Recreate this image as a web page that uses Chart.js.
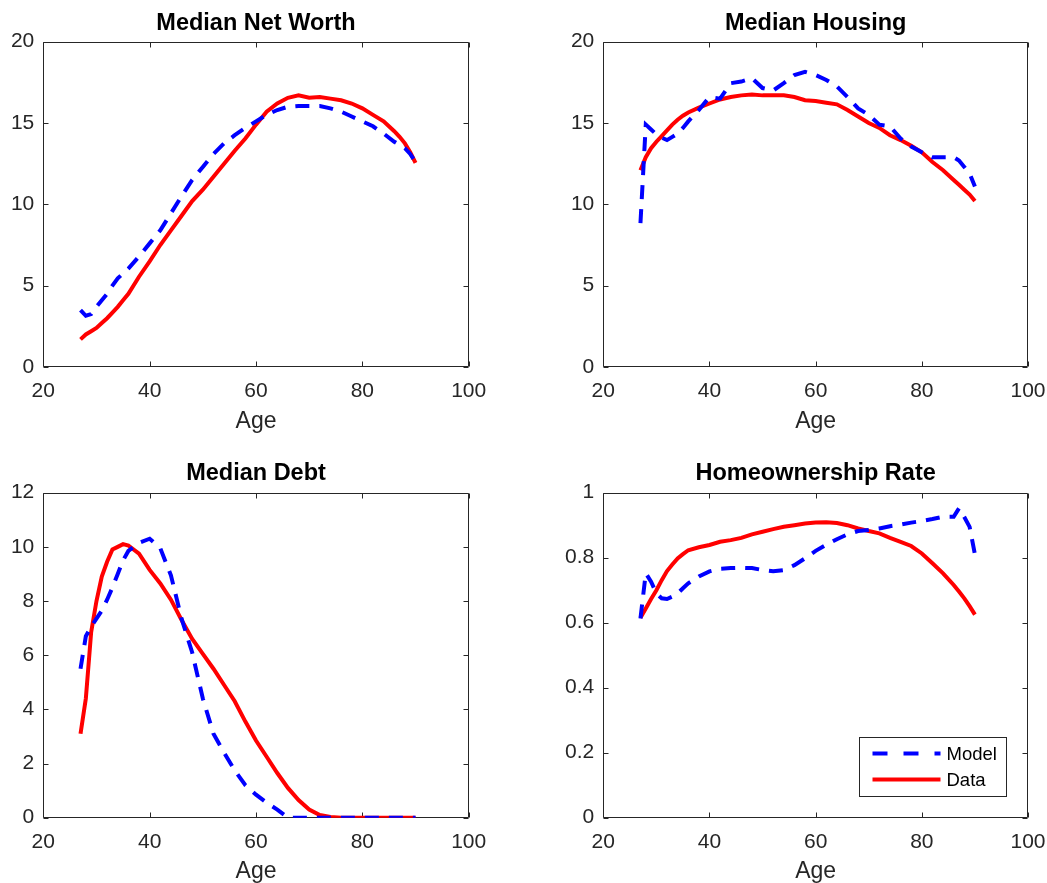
<!DOCTYPE html>
<html>
<head>
<meta charset="utf-8">
<script src="https://cdn.jsdelivr.net/npm/chart.js@4.4.1/dist/chart.umd.min.js"></script>
<style>
body{margin:0;background:#fff;}
#wrap{position:relative;width:1047px;height:883px;overflow:hidden;background:#fff;}
canvas{position:absolute;}
</style>
</head>
<body>
<div id="wrap">
  <canvas id="c1" width="523" height="433" style="left:0;top:0"></canvas>
  <canvas id="c2" width="524" height="433" style="left:523px;top:0"></canvas>
  <canvas id="c3" width="523" height="433" style="left:0;top:450px"></canvas>
  <canvas id="c4" width="524" height="433" style="left:523px;top:450px"></canvas>
</div>
<script>
'use strict'

// ages on the x axis (yearly at the ends, every 2 years in the middle)
const ages = [27,28,29,30,31,32,33,34,35,36,38,40,42,44,46,48,50,52,54,56,58,60,62,64,66,68,70,72,74,76,78,80,82,84,86,87,88,89,90];

const netWorthModel = [3.5,3.15,3.25,3.7,4.1,4.5,5.0,5.45,5.75,6.05,6.8,7.6,8.4,9.45,10.5,11.5,12.3,13.1,13.75,14.25,14.7,15.1,15.5,15.8,16.0,16.05,16.05,16.05,15.9,15.7,15.4,15.1,14.8,14.35,13.85,13.65,13.45,13.1,12.6];
const netWorthData = [1.7,2.0,2.2,2.4,2.7,3.0,3.35,3.7,4.1,4.5,5.55,6.5,7.5,8.4,9.3,10.2,10.9,11.7,12.5,13.3,14.05,14.9,15.7,16.2,16.55,16.7,16.55,16.6,16.5,16.4,16.2,15.9,15.5,15.1,14.5,14.15,13.75,13.2,12.55];

const housingModel = [8.85,14.9,14.6,14.3,14.1,13.95,14.15,14.35,14.7,15.1,15.8,16.6,16.5,17.45,17.55,17.75,17.15,17.0,17.45,17.95,18.15,17.95,17.65,17.25,16.6,15.9,15.5,14.9,14.8,14.05,13.55,13.2,12.9,12.9,12.9,12.7,12.3,11.9,11.1];
const housingData = [12.1,12.9,13.45,13.85,14.2,14.55,14.9,15.2,15.45,15.65,15.95,16.2,16.45,16.6,16.7,16.75,16.7,16.7,16.7,16.6,16.4,16.35,16.25,16.15,15.8,15.4,15.0,14.7,14.25,13.95,13.6,13.2,12.6,12.1,11.5,11.2,10.9,10.6,10.2];

const debtModel = [5.5,6.7,7.05,7.35,7.65,8.05,8.5,9.0,9.5,9.85,10.15,10.3,9.95,8.95,7.35,6.1,4.4,3.1,2.4,1.75,1.2,0.85,0.55,0.3,0,0,0,0,0,0,0,0,0,0,0,0,0,0,0];
const debtData = [3.1,4.4,6.85,8.0,8.9,9.45,9.9,10.0,10.1,10.05,9.75,9.15,8.65,8.05,7.3,6.6,6.05,5.5,4.9,4.3,3.55,2.85,2.25,1.65,1.1,0.65,0.3,0.1,0.03,0,0,0,0,0,0,0,0,0,0];

const homeModel = [0.613,0.752,0.726,0.69,0.675,0.673,0.68,0.69,0.706,0.721,0.742,0.758,0.766,0.768,0.769,0.768,0.762,0.758,0.762,0.777,0.798,0.821,0.84,0.857,0.872,0.882,0.885,0.89,0.897,0.902,0.908,0.913,0.919,0.926,0.926,0.952,0.925,0.895,0.81];
const homeData = [0.615,0.644,0.673,0.70,0.731,0.759,0.779,0.798,0.811,0.823,0.832,0.839,0.849,0.854,0.861,0.872,0.88,0.888,0.895,0.90,0.905,0.908,0.909,0.907,0.90,0.89,0.882,0.875,0.861,0.849,0.836,0.813,0.783,0.752,0.716,0.696,0.675,0.651,0.625];

const seriesLabels = ['Model', 'Data'];
const xRange = [20, 100, 20];

const AXIS = '#262626';
const FONT = "'Liberation Sans', Arial, Helvetica, sans-serif";

function toPoints(ys){
    return ages.map((a, i) => ({x: a, y: ys[i]}));
}

// MATLAB style box with inward ticks, drawn under the lines
const boxPlugin = {
    id: 'mbox',
    beforeDatasetsDraw(chart){
        const {ctx, chartArea: a, scales} = chart;
        const l = Math.round(a.left) + 0.5, r = Math.round(a.right) - 0.5;
        const t = Math.round(a.top) + 0.5, b = Math.round(a.bottom) - 0.5;
        ctx.save();
        ctx.strokeStyle = AXIS;
        ctx.lineWidth = 1;
        ctx.beginPath();
        ctx.rect(l, t, r - l, b - t);
        scales.x.ticks.forEach(tk => {
            const px = Math.round(scales.x.getPixelForValue(tk.value)) + 0.5;
            ctx.moveTo(px, b); ctx.lineTo(px, b - 5);
            ctx.moveTo(px, t); ctx.lineTo(px, t + 5);
        });
        scales.y.ticks.forEach(tk => {
            const py = Math.round(scales.y.getPixelForValue(tk.value)) + 0.5;
            ctx.moveTo(l, py); ctx.lineTo(l + 5, py);
            ctx.moveTo(r, py); ctx.lineTo(r - 5, py);
        });
        ctx.stroke();
        ctx.restore();
    }
};

// legend box in the lower right corner of the chart area
const legendPlugin = {
    id: 'mlegend',
    afterDraw(chart, args, opts){
        if (!opts.show) return;
        const {ctx, chartArea: a} = chart;
        const w = 147, h = 59;
        const x0 = Math.round(a.right - 22 - w) + 0.5, y0 = Math.round(a.bottom - 22 - h) + 0.5;
        ctx.save();
        ctx.fillStyle = '#fff';
        ctx.fillRect(x0, y0, w, h);
        ctx.strokeStyle = AXIS;
        ctx.lineWidth = 1;
        ctx.strokeRect(x0, y0, w, h);
        chart.data.datasets.forEach((ds, i) => {
            const yy = y0 + 16 + i * 26;
            ctx.strokeStyle = ds.borderColor;
            ctx.lineWidth = ds.borderWidth;
            ctx.setLineDash(ds.borderDash ? [15, 16] : []);
            ctx.beginPath();
            ctx.moveTo(x0 + 13, yy);
            ctx.lineTo(x0 + 81, yy);
            ctx.stroke();
            ctx.setLineDash([]);
            ctx.fillStyle = '#000';
            ctx.font = '18.5px ' + FONT;
            ctx.textAlign = 'left';
            ctx.textBaseline = 'middle';
            ctx.fillText(ds.label, x0 + 87, yy + 1);
        });
        ctx.restore();
    }
};

function makeChart(id, title, model, data, yMax, yStep, g, legend){
    return new Chart(document.getElementById(id), {
        type: 'line',
        data: {
            datasets: [{
                label: seriesLabels[0],
                data: toPoints(model),
                borderColor: '#0000ff',
                borderWidth: 4,
                borderDash: [14, 10],
                pointRadius: 0,
                tension: 0
            }, {
                label: seriesLabels[1],
                data: toPoints(data),
                borderColor: '#ff0000',
                borderWidth: 4,
                pointRadius: 0,
                tension: 0
            }]
        },
        options: {
            responsive: false,
            animation: false,
            layout: {padding: {left: g.left - 43, right: g.right, top: 0, bottom: 0}},
            plugins: {
                legend: {display: false},
                tooltip: {enabled: false},
                title: {
                    display: true,
                    text: title,
                    fullSize: false,
                    color: '#000',
                    font: {family: FONT, size: 23.5, weight: 'bold', lineHeight: 1.2},
                    padding: {top: 9, bottom: g.top - 9 - 28.2}
                },
                mlegend: {show: legend}
            },
            scales: {
                x: {
                    type: 'linear',
                    min: xRange[0], max: xRange[1],
                    grid: {display: false, drawTicks: false},
                    border: {display: false},
                    ticks: {stepSize: xRange[2], color: AXIS, padding: 11.5, maxRotation: 0,
                        font: {family: FONT, size: 21, lineHeight: 1.2}},
                    title: {display: true, text: 'Age', color: AXIS, padding: {top: 0, bottom: 0},
                        font: {family: FONT, size: 23, lineHeight: 1.0}},
                    afterFit(s){
                        s.height = 433 - g.bottom;
                        s.paddingLeft = 0;
                        s.paddingRight = 0;
                    }
                },
                y: {
                    type: 'linear',
                    min: 0, max: yMax,
                    grid: {display: false, drawTicks: false},
                    border: {display: false},
                    ticks: {stepSize: yStep, color: AXIS, padding: 9,
                        font: {family: FONT, size: 21, lineHeight: 1.2},
                        callback: v => String(Number(v.toFixed(3)))},
                    afterFit(s){
                        s.width = 43;
                        s.paddingTop = 0;
                        s.paddingBottom = 0;
                    }
                }
            }
        },
        plugins: [boxPlugin, legendPlugin]
    });
}

makeChart('c1', 'Median Net Worth', netWorthModel, netWorthData, 20, 5, {left: 43.3, right: 54.3, top: 41.7, bottom: 367}, false);
makeChart('c2', 'Median Housing', housingModel, housingData, 20, 5, {left: 80.3, right: 19, top: 41.7, bottom: 367}, false);
makeChart('c3', 'Median Debt', debtModel, debtData, 12, 2, {left: 43.3, right: 54.3, top: 42.7, bottom: 367.7}, false);
makeChart('c4', 'Homeownership Rate', homeModel, homeData, 1, 0.2, {left: 80.3, right: 19, top: 42.7, bottom: 367.7}, true);
</script>
</body>
</html>
